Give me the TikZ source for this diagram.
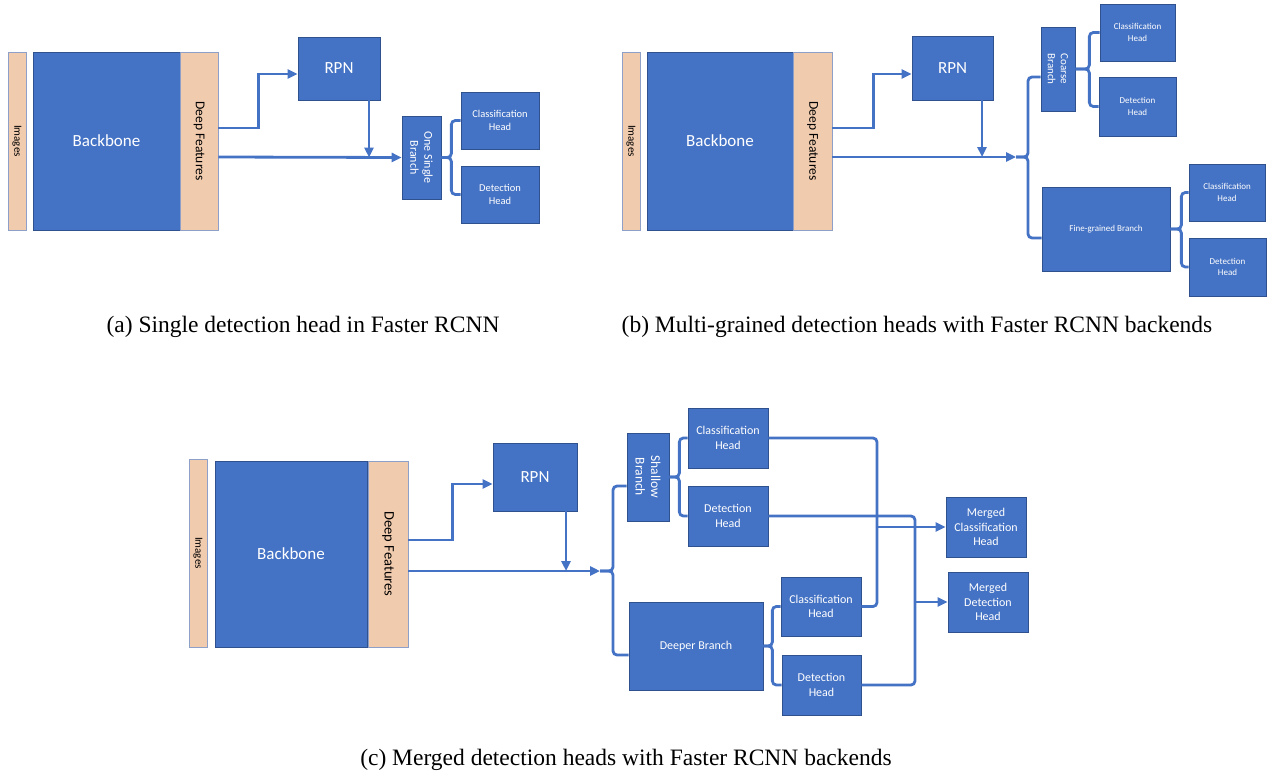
\documentclass[tikz,border=0pt]{standalone}
\usepackage{fontspec}
\setmainfont{Liberation Serif}
\newfontfamily\boxfont{Carlito}
\usetikzlibrary{arrows.meta,calc}
\definecolor{boxblue}{RGB}{68,114,196}
\definecolor{boxedge}{RGB}{47,82,143}
\definecolor{featcolor}{RGB}{241,203,174}
\definecolor{featedge}{RGB}{143,160,200}

\begin{document}
\begin{tikzpicture}[
	x=1pt, y=-1pt,
	block/.style={
		rectangle,
		draw=boxedge,
		line width=0.7pt,
		fill=boxblue,
		text=white,
		inner sep=0pt,
		align=center
	},
	feature/.style={
		rectangle,
		draw=featedge,
		line width=0.7pt,
		fill=featcolor,
		inner sep=0pt
	},
	vlab/.style={rotate=-90, align=center, inner sep=0pt},
	txtS/.style={font=\boxfont\fontsize{9}{11.5}\selectfont},
	txtM/.style={font=\boxfont\fontsize{10.5}{13.5}\selectfont},
	txtL/.style={font=\boxfont\fontsize{12}{14.4}\selectfont},
	txtXL/.style={font=\boxfont\fontsize{17}{20}\selectfont},
	link/.style={
		draw=boxblue,
		line width=2.8pt,
		-{Triangle[length=10pt,width=9pt]}
	},
	fork/.style={
		draw=boxblue,
		line width=2.8pt,
		rounded corners=4pt
	},
	caption/.style={font=\fontsize{23.5}{27}\selectfont}
	]
	\useasboundingbox (0,0) rectangle (1268,773);
	
	% (a) Single Head
	\node[feature, minimum width=18, minimum height=178,
	label={[vlab,font=\boxfont\fontsize{11}{13}\selectfont,text=black]center:Images}] (imgA) at (17,141) {};
	\node[block, minimum width=147, minimum height=178, txtXL] (bbA) at (106.5,141) {Backbone};
	\node[feature, minimum width=38, minimum height=178,
	label={[vlab,font=\boxfont\fontsize{13.5}{16}\selectfont,text=black]center:Deep Features}] (dfA) at (199,141) {};
	\node[block, minimum width=82, minimum height=63, txtXL] (rpnA) at (339,68.5) {RPN};
	\node[block, minimum width=39, minimum height=83,
	label={[vlab,font=\boxfont\fontsize{12}{14}\selectfont,text=white]center:One Single\\Branch}] (singleA) at (421.5,157.5) {};
	\node[block, minimum width=78, minimum height=57, txtM] (clsA) at (500,120.5) {Classification\\Head};
	\node[block, minimum width=78, minimum height=57, txtM] (detA) at (500,194.5) {Detection\\Head};
	
	\draw[link] ([yshift=13pt]dfA.east) -- ++(40,0) |- ([yshift=-5.5pt]rpnA.west);
	\draw[link] ([yshift=-16pt]dfA.east) -- (singleA.west);
	\draw[link] ([xshift=30pt]rpnA.south) -- ([xshift=30pt]rpnA.south |- singleA.west);
	\draw[fork] (singleA.east) -- ++(10,0) |- (clsA.west);
	\draw[fork] (singleA.east) -- ++(10,0) |- (detA.west);
	
	\node[caption] (capA) at (303,327) {(a) Single detection head in Faster RCNN};
	
	% (b) Multi-grained Heads
	\node[feature, minimum width=18, minimum height=178,
	label={[vlab,font=\boxfont\fontsize{11}{13}\selectfont,text=black]center:Images}] (imgB) at (631,141) {};
	\node[block, minimum width=146, minimum height=178, txtXL] (bbB) at (720,141) {Backbone};
	\node[feature, minimum width=39, minimum height=178,
	label={[vlab,font=\boxfont\fontsize{13.5}{16}\selectfont,text=black]center:Deep Features}] (dfB) at (812.5,141) {};
	\node[block, minimum width=81, minimum height=64, txtXL] (rpnB) at (952.5,68) {RPN};
	\node[block, minimum width=34, minimum height=84,
	label={[vlab,font=\boxfont\fontsize{11}{13}\selectfont,text=white]center:Coarse\\Branch}] (coarseB) at (1058,69) {};
	\node[block, minimum width=128, minimum height=84, txtS] (fineB) at (1106,229) {Fine-grained Branch};
	\node[block, minimum width=75, minimum height=57, txtS] (cclsB) at (1137.5,32.5) {Classification\\Head};
	\node[block, minimum width=77, minimum height=59, txtS] (cdetB) at (1137.5,106.5) {Detection\\Head};
	\node[block, minimum width=76, minimum height=57, txtS] (fclsB) at (1227,192.5) {Classification\\Head};
	\node[block, minimum width=77, minimum height=58, txtS] (fdetB) at (1227.5,267) {Detection\\Head};
	\coordinate (forkB) at (1016,157);
	
	\draw[link] ([yshift=13pt]dfB.east) -- ++(41,0) |- ([yshift=-6pt]rpnB.west);
	\draw[link] ([yshift=-16pt]dfB.east) -- (forkB);
	\draw[link] ([xshift=29.5pt]rpnB.south) -- ([xshift=29.5pt]rpnB.south |- forkB);
	\draw[fork] (forkB) -- ++(12,0) |- ([yshift=-8pt]coarseB.west);
	\draw[fork] (forkB) -- ++(12,0) |- ([yshift=-9pt]fineB.west);
	\draw[fork] (coarseB.east) -- ++(14,0) |- (cclsB.west);
	\draw[fork] (coarseB.east) -- ++(14,0) |- (cdetB.west);
	\draw[fork] (fineB.east) -- ++(11,0) |- (fclsB.west);
	\draw[fork] (fineB.east) -- ++(11,0) |- (fdetB.west);
	
	\node[caption] (capB) at (917,327) {(b) Multi-grained detection heads with Faster RCNN backends};
	
	% (c) Merged Heads
	\node[feature, minimum width=18, minimum height=188,
	label={[vlab,font=\boxfont\fontsize{11}{13}\selectfont,text=black]center:Images}] (imgC) at (198,553) {};
	\node[block, minimum width=152, minimum height=186, txtXL] (bbC) at (291,554) {Backbone};
	\node[feature, minimum width=40, minimum height=186,
	label={[vlab,font=\boxfont\fontsize{14.5}{17}\selectfont,text=black]center:Deep Features}] (dfC) at (388,554) {};
	\node[block, minimum width=84, minimum height=68, txtXL] (rpnC) at (535,477) {RPN};
	\node[block, minimum width=42, minimum height=88,
	label={[vlab,font=\boxfont\fontsize{13.5}{15.5}\selectfont,text=white]center:Shallow\\Branch}] (shallowC) at (648,477) {};
	\node[block, minimum width=134, minimum height=88, txtL] (deeperC) at (696,646) {Deeper Branch};
	\node[block, minimum width=80, minimum height=60, txtL] (shclsC) at (728,438) {Classification\\Head};
	\node[block, minimum width=80, minimum height=60, txtL] (shdetC) at (728,516) {Detection\\Head};
	\node[block, minimum width=80, minimum height=59, txtL] (dpclsC) at (821,606.5) {Classification\\Head};
	\node[block, minimum width=79, minimum height=60, txtL] (dpdetC) at (821.5,685) {Detection\\Head};
	\node[block, minimum width=80, minimum height=60, txtL] (mclsC) at (986,527) {Merged\\Classification\\Head};
	\node[block, minimum width=80, minimum height=60, txtL] (mdetC) at (988,602) {Merged\\Detection\\Head};
	\coordinate (forkC) at (600,571);
	\coordinate (joinCls) at (877,527);
	\coordinate (joinDet) at (915,602);
	
	\draw[link] ([yshift=14pt]dfC.east) -- ++(44,0) |- ([yshift=-7pt]rpnC.west);
	\draw[link] ([yshift=-17pt]dfC.east) -- (forkC);
	\draw[link] ([xshift=31pt]rpnC.south) -- ([xshift=31pt]rpnC.south |- forkC);
	\draw[fork] (forkC) -- ++(13,0) |- ([yshift=-9pt]shallowC.west);
	\draw[fork] (forkC) -- ++(13,0) |- ([yshift=-9pt]deeperC.west);
	\draw[fork] (shallowC.east) -- ++(10,0) |- (shclsC.west);
	\draw[fork] (shallowC.east) -- ++(10,0) |- (shdetC.west);
	\draw[fork] (deeperC.east) -- ++(9,0) |- (dpclsC.west);
	\draw[fork] (deeperC.east) -- ++(9,0) |- (dpdetC.west);
	
	% Merging
	\draw[fork] (shclsC.east) -| (joinCls);
	\draw[fork] (dpclsC.east) -| (joinCls);
	\draw[link] (joinCls) -- (mclsC.west);
	\draw[fork] (shdetC.east) -| (joinDet);
	\draw[fork] (dpdetC.east) -| (joinDet);
	\draw[link] (joinDet) -- (mdetC.west);
	
	\node[caption] (capC) at (626,760) {(c) Merged detection heads with Faster RCNN backends};
	
\end{tikzpicture}
\end{document}
